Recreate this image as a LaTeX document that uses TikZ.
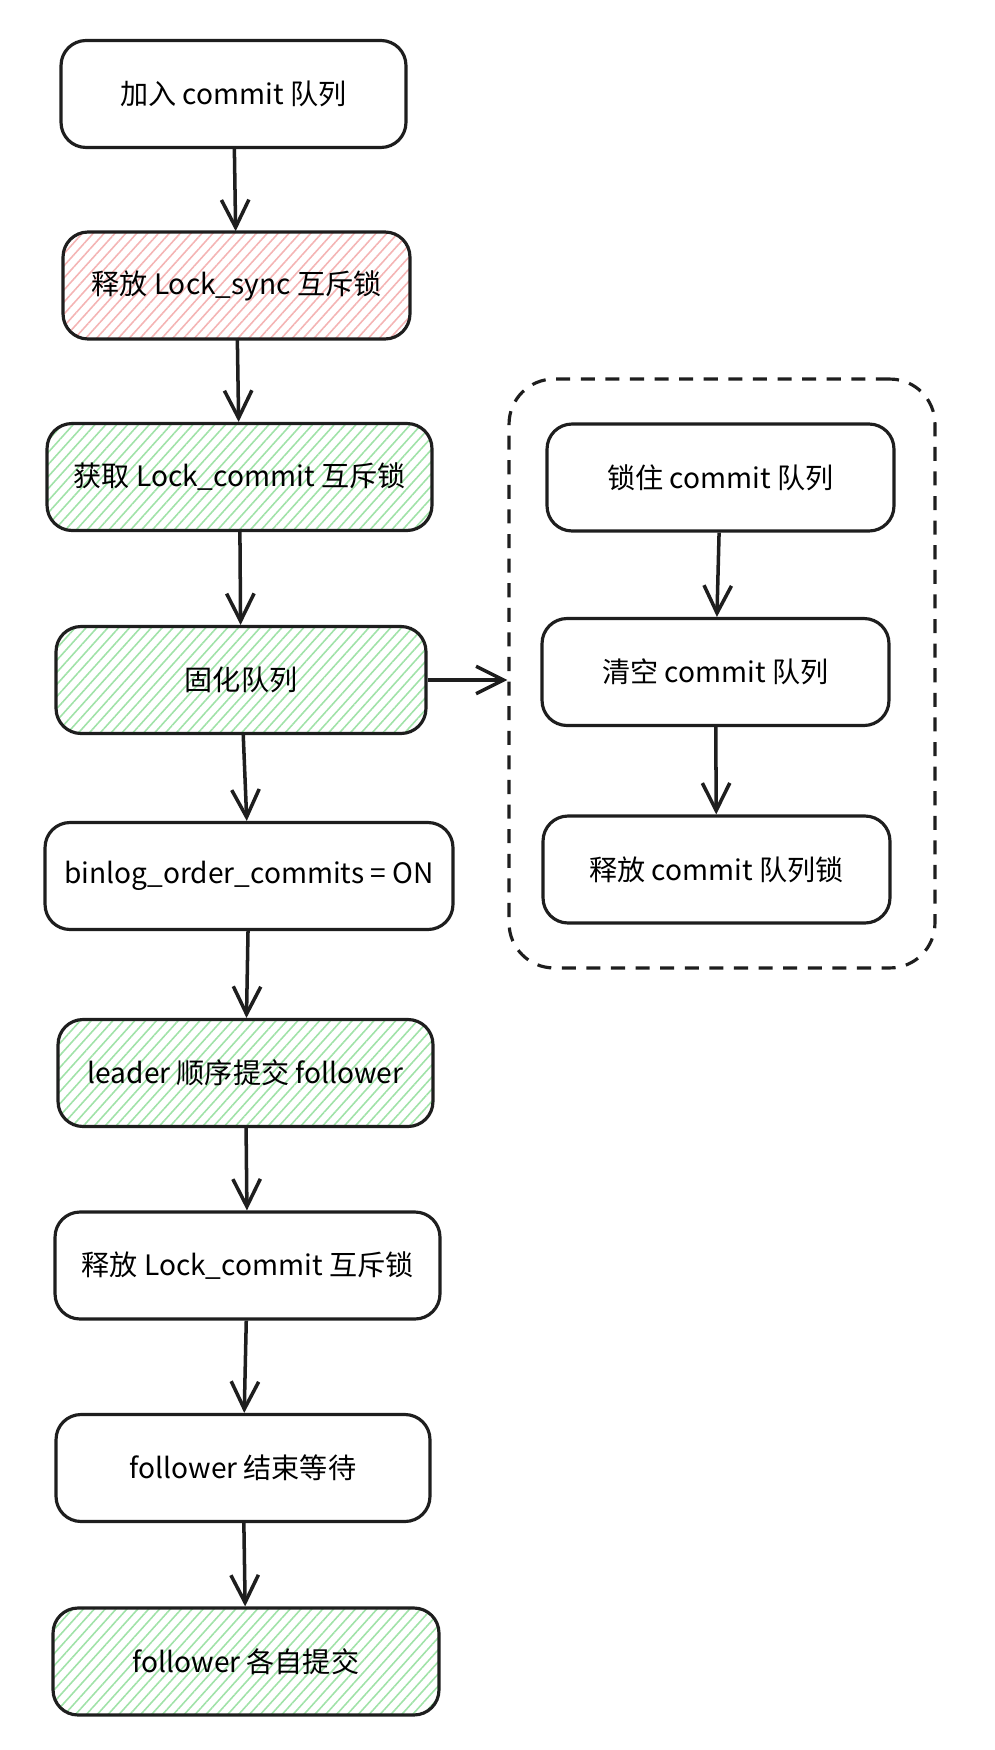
\documentclass[tikz,border=0pt]{standalone}
\usepackage{fontspec}
\setmainfont{Noto Sans CJK SC}
\usetikzlibrary{arrows.meta,patterns.meta}
\tikzset{>={Straight Barb[length=5.5mm,width=5.5mm]}}
\definecolor{ink}{RGB}{30,30,30}
\definecolor{hatchgreen}{RGB}{160,226,168}
\definecolor{hatchred}{RGB}{244,180,180}
\tikzstyle{stepbox}=[rectangle,draw=ink,line width=1.8pt,rounded corners=0.5cm,minimum height=2.14cm,font=\fontsize{16}{19}\selectfont]
\tikzstyle{greenbox}=[stepbox,pattern={Lines[angle=48,distance=4.6pt,line width=0.9pt]},pattern color=hatchgreen]
\tikzstyle{redbox}=[stepbox,pattern={Lines[angle=48,distance=4.6pt,line width=0.9pt]},pattern color=hatchred]
\tikzstyle{groupbox}=[rectangle,draw=ink,line width=1.8pt,dash pattern=on 8pt off 6pt,rounded corners=0.9cm]
\tikzstyle{flow}=[->,draw=ink,line width=2pt]

\begin{document}
\begin{tikzpicture}[x=0.02cm,y=-0.02cm]
	\useasboundingbox (0,0) rectangle (994,1750);

	% main column
	\node[stepbox,minimum width=6.9cm] (1) at (233.5,94) {加入 commit 队列};
	\node[redbox,minimum width=6.94cm] (2) at (236.5,285.5) {释放 Lock\_sync 互斥锁};
	\node[greenbox,minimum width=7.7cm] (3) at (239.5,477) {获取 Lock\_commit 互斥锁};
	\node[greenbox,minimum width=7.4cm] (4) at (241,680) {固化队列};
	\node[stepbox,minimum width=8.16cm] (5) at (249,876) {binlog\_order\_commits = ON};
	\node[greenbox,minimum width=7.5cm] (6) at (245.5,1073) {leader 顺序提交 follower};
	\node[stepbox,minimum width=7.7cm] (7) at (247.5,1265.5) {释放 Lock\_commit 互斥锁};
	\node[stepbox,minimum width=7.48cm] (8) at (243,1468) {follower 结束等待};
	\node[greenbox,minimum width=7.72cm] (9) at (246,1661.5) {follower 各自提交};

	\foreach \i in  {1,...,8} {
		\pgfmathtruncatemacro{\iplusone}{\i + 1};
		\draw[flow] (\i) -- (\iplusone);
	};

	% queue steps
	\node[groupbox,minimum width=8.52cm,minimum height=11.78cm] (grp) at (722,673.5) {};
	\node[stepbox,minimum width=6.94cm] (r1) at (720.5,477.5) {锁住 commit 队列};
	\node[stepbox,minimum width=6.94cm] (r2) at (715.5,672) {清空 commit 队列};
	\node[stepbox,minimum width=6.94cm] (r3) at (716.5,869.5) {释放 commit 队列锁};

	\foreach \i in  {1,...,2} {
		\pgfmathtruncatemacro{\iplusone}{\i + 1};
		\draw[flow] (r\i) -- (r\iplusone);
	};

	\draw[flow] (4.east) -- (4.east -| grp.west);
\end{tikzpicture}
\end{document}
